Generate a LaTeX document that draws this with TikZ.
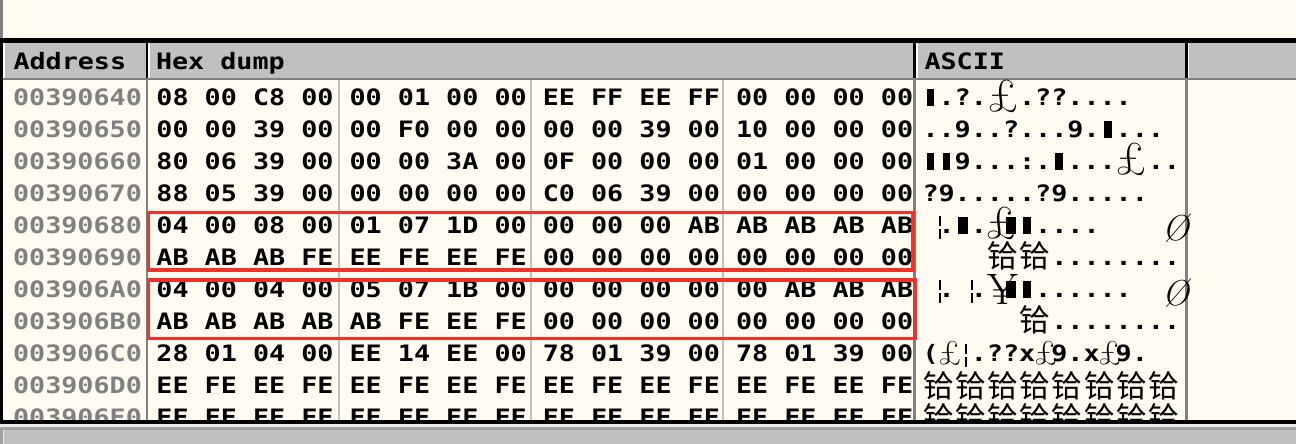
\documentclass[tikz,border=0pt]{standalone}
\usepackage{fontspec}
\newfontfamily\hexfont{DejaVu Sans Mono}[FakeStretch=1.1833]
\newfontfamily\cjkfont{Noto Sans CJK SC}
\newcommand\monoB{\hexfont\bfseries\fontsize{22.6}{24}\selectfont}
\definecolor{cream}{RGB}{255,251,240}
\definecolor{hdr}{RGB}{192,192,192}
\definecolor{dgray}{RGB}{128,128,128}
\definecolor{lgray}{RGB}{192,192,192}
\definecolor{mgray}{RGB}{160,160,160}
\definecolor{hilite}{RGB}{232,232,232}
\definecolor{boxred}{RGB}{240,50,40}
\makeatletter
\def\cells#1{\cells@#1\relax}
\def\cells@#1{\ifx\relax#1\else\makebox[16.1pt][c]{\ifx_#1\else#1\fi}\expandafter\cells@\fi}
\makeatother
% block glyph at ASCII cell #1 of row #2, width #3
\newcommand\blk[3]{\fill ({930.55+16.1*#1-#3/2},{88.7+32*#2}) rectangle ({930.55+16.1*#1+#3/2},{105.7+32*#2});}
% broken bar at x #1 row #2
\newcommand\bbar[2]{\fill ({#1-1.3},{88+32*#2}) rectangle ({#1+1.3},{98+32*#2}); \fill ({#1-1.3},{101+32*#2}) rectangle ({#1+1.3},{111+32*#2});}
\begin{document}
\begin{tikzpicture}[x=1pt,y=-1pt,
  mono/.style={font=\monoB, inner sep=0pt, outer sep=0pt},
  hdrtext/.style={mono, anchor=base west},
  addr/.style={mono, anchor=base, text=dgray},
  byte/.style={mono, anchor=base},
  asc/.style={mono, anchor=base west},
  pnd/.style={font=\fontsize{46}{46}\selectfont, inner sep=0pt, anchor=center},
  spnd/.style={font=\fontsize{34}{34}\selectfont, inner sep=0pt, anchor=center},
  oslash/.style={font=\itshape\fontsize{36}{36}\selectfont, inner sep=0pt, anchor=center},
  yen/.style={font=\fontsize{44}{44}\selectfont, inner sep=0pt, anchor=center},
  cjk/.style={font=\cjkfont\fontsize{31}{31}\selectfont, inner sep=0pt, anchor=center},
  redbox/.style={draw=boxred, line width=3.3pt}]
\useasboundingbox (0,0) rectangle (1296,444);
% background
\fill[cream] (0,0) rectangle (1296,444);
\fill[dgray] (0,0) rectangle (3.3,38.3);
\fill[black] (0,38.3) rectangle (1296,42.7);
% header
\fill[hdr] (3.3,42.7) rectangle (1296,78);
\fill[white] (3.3,42.7) rectangle (4.5,78);
\fill[white] (148.3,42.7) rectangle (149.6,78);
\fill[white] (916.3,42.7) rectangle (917.6,78);
\fill[white] (1188,42.7) rectangle (1189.3,78);
\fill[black] (146,42.7) rectangle (148.3,78);
\fill[black] (913.3,42.7) rectangle (916.3,78);
\fill[black] (1185,42.7) rectangle (1188,78);
\fill[dgray] (3.3,78) rectangle (1296,80.5);
\node[hdrtext] (hA) at (13.5,69.5) {Address};
\node[hdrtext] (hH) at (156,69.5) {Hex dump};
\node[hdrtext] (hS) at (924.5,69.5) {ASCII};
% column lines
\fill[dgray] (146,80.5) rectangle (148,420.3);
\fill[lgray] (337.8,80.5) rectangle (340,420.3);
\fill[lgray] (530,80.5) rectangle (532.3,420.3);
\fill[lgray] (721.8,80.5) rectangle (724,420.3);
\fill[dgray] (913.3,80.5) rectangle (916,420.3);
\fill[dgray] (1185,80.5) rectangle (1187.5,420.3);
\fill[black] (0,38.3) rectangle (3.3,423.5);
% address + hex
\foreach \i/\ad/\bytes in {
 0/00390640/{08,00,C8,00,00,01,00,00,EE,FF,EE,FF,00,00,00,00},
 1/00390650/{00,00,39,00,00,F0,00,00,00,00,39,00,10,00,00,00},
 2/00390660/{80,06,39,00,00,00,3A,00,0F,00,00,00,01,00,00,00},
 3/00390670/{88,05,39,00,00,00,00,00,C0,06,39,00,00,00,00,00},
 4/00390680/{04,00,08,00,01,07,1D,00,00,00,00,AB,AB,AB,AB,AB},
 5/00390690/{AB,AB,AB,FE,EE,FE,EE,FE,00,00,00,00,00,00,00,00},
 6/003906A0/{04,00,04,00,05,07,1B,00,00,00,00,00,00,AB,AB,AB},
 7/003906B0/{AB,AB,AB,AB,AB,FE,EE,FE,00,00,00,00,00,00,00,00},
 8/003906C0/{28,01,04,00,EE,14,EE,00,78,01,39,00,78,01,39,00},
 9/003906D0/{EE,FE,EE,FE,EE,FE,EE,FE,EE,FE,EE,FE,EE,FE,EE,FE},
 10/003906E0/{EE,FE,EE,FE,EE,FE,EE,FE,EE,FE,EE,FE,EE,FE,EE,FE}}{
  \node[addr] (a\i) at (77.5,{105.7+32*\i}) {\ad};
  \foreach \b [count=\k from 0] in \bytes {
    \node[byte] (h\i-\k) at ({172.5+48.3*\k},{105.7+32*\i}) {\b};
  }
}
% ASCII column
\node[asc] (s0) at (922.5,105.7) {\cells{_.?.__.??....}};
\node[asc] (s1) at (922.5,137.7) {\cells{..9..?...9._...}};
\node[asc] (s2) at (922.5,169.7) {\cells{__9...:._...__..}};
\node[asc] (s3) at (922.5,201.7) {\cells{?9.....?9.....}};
\node[asc] (s4) at (922.5,233.7) {\cells{_._.___....}};
\node[asc] (s5) at (922.5,265.7) {\cells{________........}};
\node[asc] (s6) at (922.5,297.7) {\cells{_._.___......}};
\node[asc] (s7) at (922.5,329.7) {\cells{________........}};
\node[asc] (s8) at (922.5,361.7) {\cells{(__.??x_9.x_9.}};
% blocks
\blk{0}{0}{7.5}
\blk{11}{1}{8}
\blk{0}{2}{7.5} \blk{1}{2}{7.5} \blk{8}{2}{8}
\node[pnd] (p0) at (1003,96) {£};
\node[pnd] (p2) at (1131.5,159.5) {£};
\node[pnd] (p4) at (1001,223.5) {£};
\blk{2}{4}{10} \blk{5}{4}{10} \blk{6}{4}{8}
\bbar{940}{4}
\node[oslash] (o4) at (1176,228.5) {Ø};
\node[cjk] (c5a) at (1003.0,256) {铪};
\node[cjk] (c5b) at (1035.2,256) {铪};
\bbar{940}{6} \bbar{972}{6}
\node[yen] (y6) at (1002.5,289.5) {¥};
\blk{5}{6}{10} \blk{6}{6}{8}
\node[oslash] (o6) at (1176,293.5) {Ø};
\node[cjk] (c7) at (1035.2,320) {铪};
\node[spnd] (p8a) at (950,353.5) {£};
\bbar{966}{8}
\node[spnd] (p8b) at (1046,353.5) {£};
\node[spnd] (p8c) at (1110,353.5) {£};
\foreach \r in {9,10} {
  \foreach \c in {0,...,7} {
    \node[cjk] (c\r-\c) at ({938.6+32.2*\c},{386+32*(\r-9)}) {铪};
  }
}
% red boxes
\draw[redbox] (148.3,212.5) rectangle (913,270);
\draw[redbox] (148.3,280) rectangle (915,338.3);
% bottom bar
\fill[black] (0,420.3) rectangle (1296,423.5);
\fill[hilite] (0,423.5) rectangle (1296,426.5);
\fill[mgray] (0,426.5) rectangle (1296,430);
\fill[hdr] (0,430) rectangle (1296,444);
\fill[mgray] (0,430) rectangle (3,444);
\fill[hilite] (3,430) rectangle (4,444);
\end{tikzpicture}
\end{document}
